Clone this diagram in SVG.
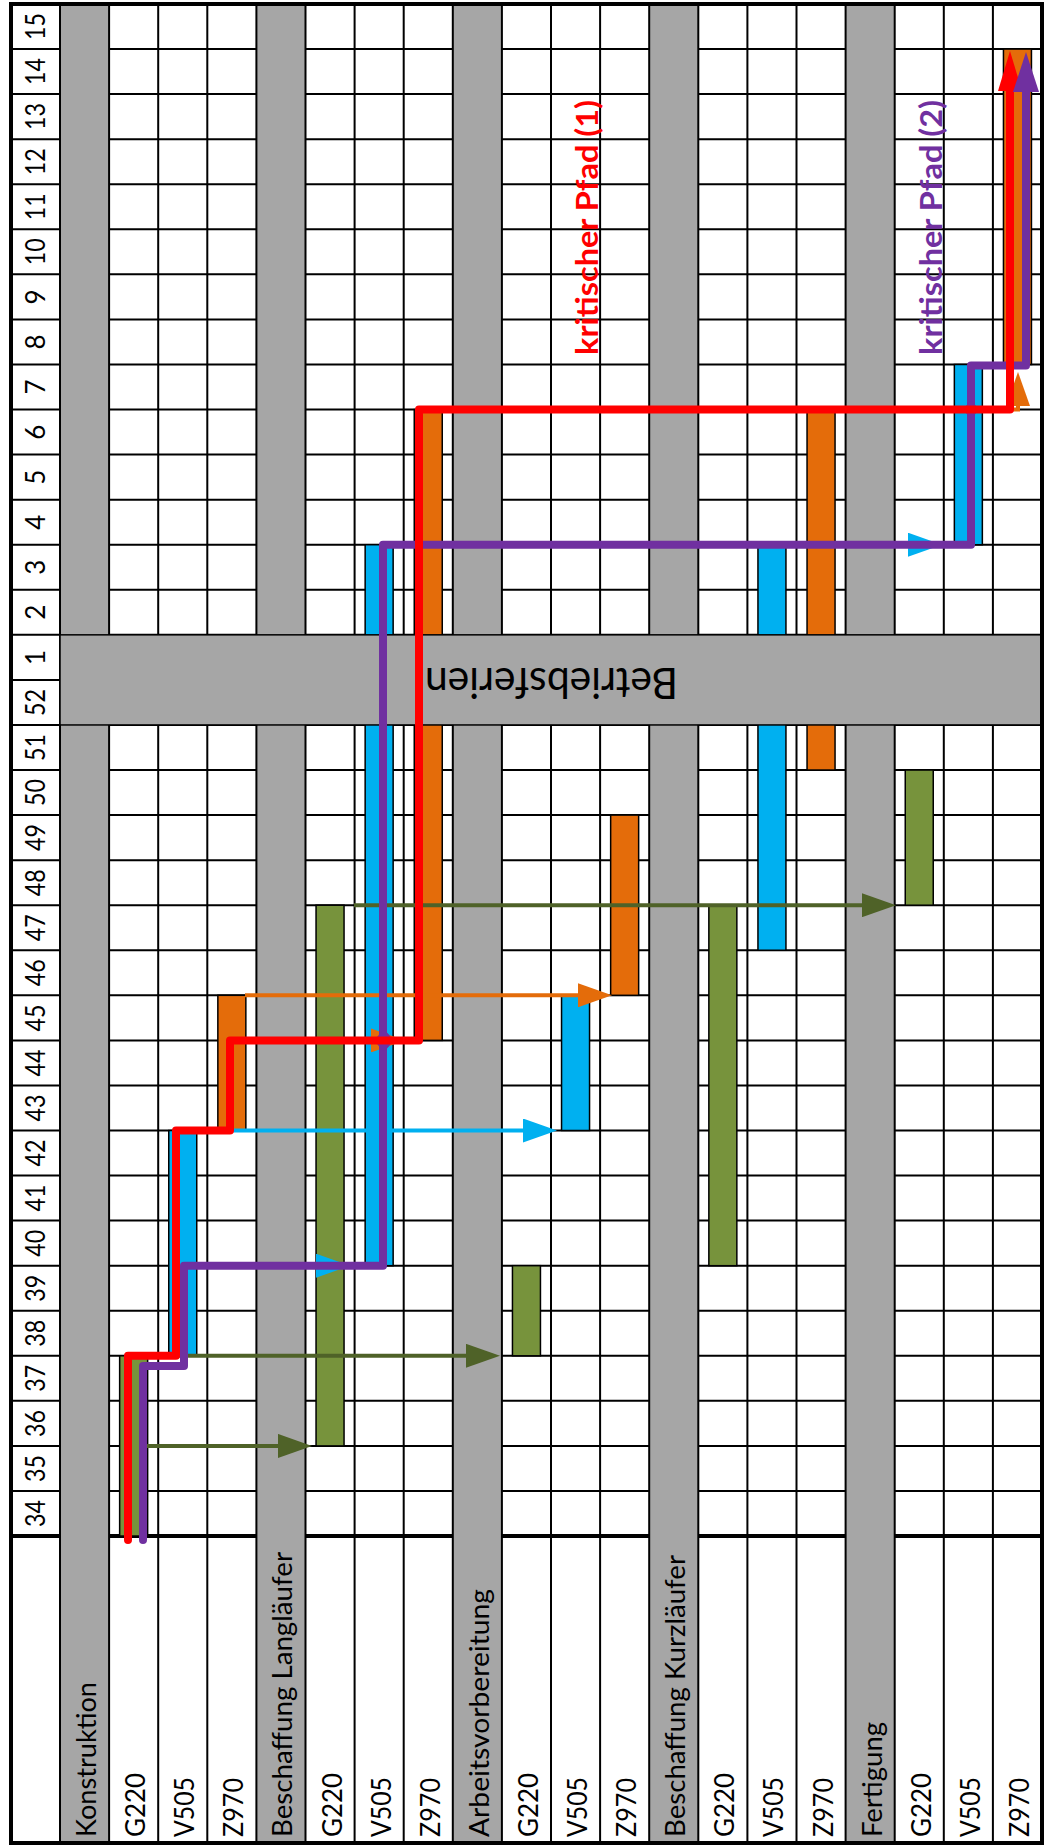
<svg xmlns="http://www.w3.org/2000/svg" width="1044" height="1845" viewBox="0 0 1044 1845">
<style>
.grid{stroke:#000;stroke-width:2;fill:none}
.gray{fill:#a6a6a6}
.bar{stroke:#000;stroke-width:1.5}
.g{fill:#77933c}
.b{fill:#00b0f0}
.o{fill:#e46c0a}
.wk{font-family:Lato,"Open Sans",sans-serif;font-size:26px;fill:#000;text-anchor:middle}
.lbl{font-family:Lato,"Open Sans",sans-serif;font-size:27px;fill:#000}
.arr{fill:none;stroke-width:4}
.crit{fill:none;stroke-width:8;stroke-linejoin:round;stroke-linecap:round}
.ct{font-family:Lato,"Open Sans",sans-serif;font-size:31px;font-weight:700}
</style>
<defs>
<marker id="mG" viewBox="0 0 34 24" refX="4" refY="12" markerWidth="34" markerHeight="24" markerUnits="userSpaceOnUse" orient="auto"><path d="M0,0 L34,12 L0,24 Z" fill="#4f6228"/></marker>
<marker id="mB" viewBox="0 0 34 24" refX="4" refY="12" markerWidth="34" markerHeight="24" markerUnits="userSpaceOnUse" orient="auto"><path d="M0,0 L34,12 L0,24 Z" fill="#00b0f0"/></marker>
<marker id="mO" viewBox="0 0 34 24" refX="4" refY="12" markerWidth="34" markerHeight="24" markerUnits="userSpaceOnUse" orient="auto"><path d="M0,0 L34,12 L0,24 Z" fill="#e46c0a"/></marker>
<marker id="mR" viewBox="0 0 40 24" refX="2" refY="12" markerWidth="40" markerHeight="24" markerUnits="userSpaceOnUse" orient="auto"><path d="M0,0 L40,12 L0,24 Z" fill="#ff0000"/></marker>
<marker id="mP" viewBox="0 0 40 26" refX="2" refY="13" markerWidth="40" markerHeight="26" markerUnits="userSpaceOnUse" orient="auto"><path d="M0,0 L40,13 L0,26 Z" fill="#7030a0"/></marker>
</defs>
<rect x="0" y="0" width="1044" height="1845" fill="#fff"/>
<g id="grid">
<path class="grid" d="M11,49.06H1042M11,94.12H1042M11,139.18H1042M11,184.24H1042M11,229.3H1042M11,274.36H1042M11,319.42H1042M11,364.48H1042M11,409.54H1042M11,454.6H1042M11,499.66H1042M11,544.72H1042M11,589.78H1042M11,634.84H1042M11,679.9H1042M11,724.96H1042M11,770.02H1042M11,815.08H1042M11,860.14H1042M11,905.2H1042M11,950.26H1042M11,995.32H1042M11,1040.38H1042M11,1085.44H1042M11,1130.5H1042M11,1175.56H1042M11,1220.62H1042M11,1265.68H1042M11,1310.74H1042M11,1355.8H1042M11,1400.86H1042M11,1445.92H1042M11,1490.98H1042"/>
<path d="M11,1536H1042" stroke="#000" stroke-width="4"/>
<rect class="gray" x="60" y="4" width="49.1" height="1839"/>
<rect class="gray" x="256.4" y="4" width="49.1" height="1839"/>
<rect class="gray" x="452.8" y="4" width="49.1" height="1839"/>
<rect class="gray" x="649.2" y="4" width="49.1" height="1839"/>
<rect class="gray" x="845.6" y="4" width="49.1" height="1839"/>
<path class="grid" d="M60,4V1843M109.1,4V1843M158.2,4V1843M207.3,4V1843M256.4,4V1843M305.5,4V1843M354.6,4V1843M403.7,4V1843M452.8,4V1843M501.9,4V1843M551,4V1843M600.1,4V1843M649.2,4V1843M698.3,4V1843M747.4,4V1843M796.5,4V1843M845.6,4V1843M894.7,4V1843M943.8,4V1843M992.9,4V1843"/>
</g>
<g id="bars">
<rect id="k-g220" class="bar g" x="119.65" y="1355.8" width="28" height="180.24"/>
<rect id="k-v505" class="bar b" x="168.75" y="1130.5" width="28" height="225.3"/>
<rect id="k-z970" class="bar o" x="217.85" y="995.32" width="28" height="135.18"/>
<rect id="bl-g220" class="bar g" x="316.05" y="905.2" width="28" height="540.72"/>
<rect id="bl-v505" class="bar b" x="365.15" y="544.72" width="28" height="720.96"/>
<rect id="bl-z970" class="bar o" x="414.25" y="409.54" width="28" height="630.84"/>
<rect id="av-g220" class="bar g" x="512.45" y="1265.68" width="28" height="90.12"/>
<rect id="av-v505" class="bar b" x="561.55" y="995.32" width="28" height="135.18"/>
<rect id="av-z970" class="bar o" x="610.65" y="815.08" width="28" height="180.24"/>
<rect id="bk-g220" class="bar g" x="708.85" y="905.2" width="28" height="360.48"/>
<rect id="bk-v505" class="bar b" x="757.95" y="544.72" width="28" height="405.54"/>
<rect id="bk-z970" class="bar o" x="807.05" y="409.54" width="28" height="360.48"/>
<rect id="f-g220" class="bar g" x="905.25" y="770.02" width="28" height="135.18"/>
<rect id="f-v505" class="bar b" x="954.35" y="364.48" width="28" height="180.24"/>
<rect id="f-z970" class="bar o" x="1003.45" y="49.06" width="28" height="315.42"/>
</g>
<g id="betriebsferien">
<rect class="gray" x="60" y="634.84" width="982" height="90.12" stroke="#000" stroke-width="1.5"/>
<text transform="translate(551.5,668) rotate(180)" font-family="Lato,'Open Sans',sans-serif" font-size="42" text-anchor="middle" textLength="253" lengthAdjust="spacingAndGlyphs">Betriebsferien</text>
</g>
<rect x="11" y="4" width="1031" height="1839" fill="none" stroke="#000" stroke-width="4"/>
<g id="weeks">
<text class="wk" transform="translate(45,26.5) rotate(-90)" textLength="27" lengthAdjust="spacingAndGlyphs">15</text>
<text class="wk" transform="translate(45,71.6) rotate(-90)" textLength="27" lengthAdjust="spacingAndGlyphs">14</text>
<text class="wk" transform="translate(45,116.6) rotate(-90)" textLength="27" lengthAdjust="spacingAndGlyphs">13</text>
<text class="wk" transform="translate(45,161.7) rotate(-90)" textLength="27" lengthAdjust="spacingAndGlyphs">12</text>
<text class="wk" transform="translate(45,206.8) rotate(-90)" textLength="27" lengthAdjust="spacingAndGlyphs">11</text>
<text class="wk" transform="translate(45,251.8) rotate(-90)" textLength="27" lengthAdjust="spacingAndGlyphs">10</text>
<text class="wk" transform="translate(45,296.9) rotate(-90)">9</text>
<text class="wk" transform="translate(45,342) rotate(-90)">8</text>
<text class="wk" transform="translate(45,387) rotate(-90)">7</text>
<text class="wk" transform="translate(45,432.1) rotate(-90)">6</text>
<text class="wk" transform="translate(45,477.1) rotate(-90)">5</text>
<text class="wk" transform="translate(45,522.2) rotate(-90)">4</text>
<text class="wk" transform="translate(45,567.2) rotate(-90)">3</text>
<text class="wk" transform="translate(45,612.3) rotate(-90)">2</text>
<text class="wk" transform="translate(45,657.4) rotate(-90)">1</text>
<text class="wk" transform="translate(45,702.4) rotate(-90)" textLength="27" lengthAdjust="spacingAndGlyphs">52</text>
<text class="wk" transform="translate(45,747.5) rotate(-90)" textLength="27" lengthAdjust="spacingAndGlyphs">51</text>
<text class="wk" transform="translate(45,792.5) rotate(-90)" textLength="27" lengthAdjust="spacingAndGlyphs">50</text>
<text class="wk" transform="translate(45,837.6) rotate(-90)" textLength="27" lengthAdjust="spacingAndGlyphs">49</text>
<text class="wk" transform="translate(45,882.7) rotate(-90)" textLength="27" lengthAdjust="spacingAndGlyphs">48</text>
<text class="wk" transform="translate(45,927.7) rotate(-90)" textLength="27" lengthAdjust="spacingAndGlyphs">47</text>
<text class="wk" transform="translate(45,972.8) rotate(-90)" textLength="27" lengthAdjust="spacingAndGlyphs">46</text>
<text class="wk" transform="translate(45,1017.9) rotate(-90)" textLength="27" lengthAdjust="spacingAndGlyphs">45</text>
<text class="wk" transform="translate(45,1062.9) rotate(-90)" textLength="27" lengthAdjust="spacingAndGlyphs">44</text>
<text class="wk" transform="translate(45,1108) rotate(-90)" textLength="27" lengthAdjust="spacingAndGlyphs">43</text>
<text class="wk" transform="translate(45,1153) rotate(-90)" textLength="27" lengthAdjust="spacingAndGlyphs">42</text>
<text class="wk" transform="translate(45,1198.1) rotate(-90)" textLength="27" lengthAdjust="spacingAndGlyphs">41</text>
<text class="wk" transform="translate(45,1243.2) rotate(-90)" textLength="27" lengthAdjust="spacingAndGlyphs">40</text>
<text class="wk" transform="translate(45,1288.2) rotate(-90)" textLength="27" lengthAdjust="spacingAndGlyphs">39</text>
<text class="wk" transform="translate(45,1333.3) rotate(-90)" textLength="27" lengthAdjust="spacingAndGlyphs">38</text>
<text class="wk" transform="translate(45,1378.3) rotate(-90)" textLength="27" lengthAdjust="spacingAndGlyphs">37</text>
<text class="wk" transform="translate(45,1423.4) rotate(-90)" textLength="27" lengthAdjust="spacingAndGlyphs">36</text>
<text class="wk" transform="translate(45,1468.5) rotate(-90)" textLength="27" lengthAdjust="spacingAndGlyphs">35</text>
<text class="wk" transform="translate(45,1513.5) rotate(-90)" textLength="27" lengthAdjust="spacingAndGlyphs">34</text>
</g>
<g id="labels">
<text class="lbl" transform="translate(96,1837) rotate(-90)" textLength="155" lengthAdjust="spacingAndGlyphs">Konstruktion</text>
<text class="lbl" transform="translate(145.1,1837) rotate(-90)" textLength="64" lengthAdjust="spacingAndGlyphs">G220</text>
<text class="lbl" transform="translate(194.2,1837) rotate(-90)" textLength="60" lengthAdjust="spacingAndGlyphs">V505</text>
<text class="lbl" transform="translate(243.3,1837) rotate(-90)" textLength="59" lengthAdjust="spacingAndGlyphs">Z970</text>
<text class="lbl" transform="translate(292.4,1837) rotate(-90)" textLength="285" lengthAdjust="spacingAndGlyphs">Beschaffung Langläufer</text>
<text class="lbl" transform="translate(341.5,1837) rotate(-90)" textLength="64" lengthAdjust="spacingAndGlyphs">G220</text>
<text class="lbl" transform="translate(390.6,1837) rotate(-90)" textLength="60" lengthAdjust="spacingAndGlyphs">V505</text>
<text class="lbl" transform="translate(439.7,1837) rotate(-90)" textLength="59" lengthAdjust="spacingAndGlyphs">Z970</text>
<text class="lbl" transform="translate(488.8,1837) rotate(-90)" textLength="248" lengthAdjust="spacingAndGlyphs">Arbeitsvorbereitung</text>
<text class="lbl" transform="translate(537.9,1837) rotate(-90)" textLength="64" lengthAdjust="spacingAndGlyphs">G220</text>
<text class="lbl" transform="translate(587,1837) rotate(-90)" textLength="60" lengthAdjust="spacingAndGlyphs">V505</text>
<text class="lbl" transform="translate(636.1,1837) rotate(-90)" textLength="59" lengthAdjust="spacingAndGlyphs">Z970</text>
<text class="lbl" transform="translate(685.2,1837) rotate(-90)" textLength="282" lengthAdjust="spacingAndGlyphs">Beschaffung Kurzläufer</text>
<text class="lbl" transform="translate(734.3,1837) rotate(-90)" textLength="64" lengthAdjust="spacingAndGlyphs">G220</text>
<text class="lbl" transform="translate(783.4,1837) rotate(-90)" textLength="60" lengthAdjust="spacingAndGlyphs">V505</text>
<text class="lbl" transform="translate(832.5,1837) rotate(-90)" textLength="59" lengthAdjust="spacingAndGlyphs">Z970</text>
<text class="lbl" transform="translate(881.6,1837) rotate(-90)" textLength="115" lengthAdjust="spacingAndGlyphs">Fertigung</text>
<text class="lbl" transform="translate(930.7,1837) rotate(-90)" textLength="64" lengthAdjust="spacingAndGlyphs">G220</text>
<text class="lbl" transform="translate(979.8,1837) rotate(-90)" textLength="60" lengthAdjust="spacingAndGlyphs">V505</text>
<text class="lbl" transform="translate(1028.9,1837) rotate(-90)" textLength="59" lengthAdjust="spacingAndGlyphs">Z970</text>
</g>
<g id="connectors">
<path class="arr" stroke="#4f6228" marker-end="url(#mG)" d="M147,1445.9H282"/>
<path class="arr" stroke="#4f6228" marker-end="url(#mG)" d="M147,1355.8H470"/>
<path class="arr" stroke="#4f6228" marker-end="url(#mG)" d="M354,905.2H866"/>
<path class="arr" stroke="#00b0f0" marker-end="url(#mB)" d="M197,1265.7H320"/>
<path class="arr" stroke="#00b0f0" marker-end="url(#mB)" d="M233,1130.5H527"/>
<path class="arr" stroke="#00b0f0" marker-end="url(#mB)" d="M785,544.7H912"/>
<path class="arr" stroke="#e46c0a" marker-end="url(#mO)" d="M245,995.3H582"/>
<path class="arr" stroke="#e46c0a" marker-end="url(#mO)" d="M245,1040.4H375"/>
<path class="arr" stroke="#e46c0a" marker-end="url(#mO)" d="M832,409.5H1018V402"/>
<path class="crit" stroke="#7030a0" d="M143,1540V1366H184V1265.7H383V544.7H971V365.5H1026V120"/>
<path d="M374,1040.4L384,1029L394,1040.4L384,1052Z M963,409.5L971,400L979,409.5L971,419Z" fill="#7030a0"/>
<path class="crit" stroke="#ff0000" marker-end="url(#mR)" d="M128,1540V1355.8H176V1130.5H230V1040.4H419V409.5H1010V89"/>
<path d="M1026,120V90" stroke="#7030a0" stroke-width="8" fill="none" marker-end="url(#mP)"/>
</g>
<g id="critical-labels">
<text class="ct" fill="#ff0000" transform="translate(598,355) rotate(-90)" textLength="255" lengthAdjust="spacingAndGlyphs">kritischer Pfad (1)</text>
<text class="ct" fill="#7030a0" transform="translate(942,355) rotate(-90)" textLength="255" lengthAdjust="spacingAndGlyphs">kritischer Pfad (2)</text>
</g>
</svg>
